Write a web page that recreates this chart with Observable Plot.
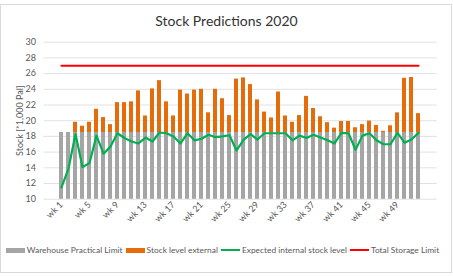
<!DOCTYPE html>
<html>
<head>
<meta charset="utf-8">
<script src="https://cdn.jsdelivr.net/npm/d3@7"></script>
<script src="https://cdn.jsdelivr.net/npm/@observablehq/plot@0.6"></script>
<style>
  html, body { margin: 0; padding: 0; background: #fff; }
  body { width: 453px; height: 277px; position: relative; overflow: hidden; font-family: Lato, "Open Sans", sans-serif; }
  #frame { position: absolute; left: 0; top: 4px; width: 452px; height: 269px; box-sizing: border-box; border: 1px solid #d9d9d9; }
  #title { position: absolute; left: 0; top: 12px; width: 453px; text-align: center; font-size: 14px; line-height: 18px; color: #333; }
  #chart { position: absolute; left: 0; top: 34px; }
  #legend { position: absolute; left: 0; top: 244px; width: 445px; display: flex; justify-content: center; align-items: center; font-size: 8.4px; line-height: 12px; color: #595959; white-space: nowrap; }
  #legend .item { display: flex; align-items: center; margin: 0 1.5px; }
  #legend .sw { display: inline-block; width: 19px; margin-right: 2px; }
  #caption { position: absolute; left: 0; top: 274.5px; width: 453px; text-align: center; font-size: 9.5px; font-weight: bold; color: #3aa88a; }
</style>
</head>
<body>
<div id="frame"></div>
<div id="title">Stock Predictions 2020</div>
<div id="chart"></div>
<div id="legend"></div>
<div id="caption">Figure 3.2: Stock predictions 2020</div>
<script>
// ---- data ----
const weeks = Array.from({length: 52}, (_, i) => `wk ${i + 1}`);
const xTickLabels = ["wk 1","wk 5","wk 9","wk 13","wk 17","wk 21","wk 25","wk 29","wk 33","wk 37","wk 41","wk 45","wk 49"];
const yTicks = [10, 12, 14, 16, 18, 20, 22, 24, 26, 28, 30];
const warehousePracticalLimit = 18.5;
const totalStorageLimit = 27;
const stockLevelExternal = [
  0, 0, 1.3, 0.8, 1.3, 2.95, 1.9, 1.0, 3.8, 3.8,
  3.9, 5.3, 2.1, 5.55, 6.6, 3.9, 2.1, 5.4, 4.9, 5.4,
  5.5, 2.5, 5.5, 4.3, 2.15, 6.8, 6.95, 6.1, 4.15, 2.6,
  1.85, 5.15, 2.1, 1.3, 2.15, 4.6, 3.05, 2.0, 1.25, 0.55,
  1.4, 1.4, 0.6, 1.0, 1.45, 0.9, 0.15, 0.85, 2.5, 6.9,
  7.0, 2.4
];
const expectedInternal = [
  11.5, 13.9, 18.3, 14.1, 14.6, 18.1, 15.8, 16.7, 18.4, 17.8,
  17.35, 17.1, 17.85, 17.35, 18.5, 18.4, 18.0, 17.1, 18.4, 17.5,
  17.7, 18.2, 17.9, 18.0, 18.15, 16.2, 17.55, 18.3, 17.6, 18.4,
  18.4, 18.4, 18.4, 17.5, 18.1, 17.8, 18.2, 17.85, 17.5, 17.1,
  18.45, 18.4, 16.3, 18.1, 18.4, 17.5, 17.0, 17.0, 18.45, 17.2,
  17.6, 18.45
];
const seriesNames = ["Warehouse Practical Limit", "Stock level external", "Expected internal stock level", "Total Storage Limit"];
const seriesColors = ["#a5a5a5", "#e46c0a", "#00b050", "#ff0000"];

// ---- tables ----
const barRows = [];
weeks.forEach((w, i) => {
  barRows.push({week: w, series: seriesNames[0], value: warehousePracticalLimit});
  barRows.push({week: w, series: seriesNames[1], value: stockLevelExternal[i]});
});
const internalRows = weeks.map((w, i) => ({week: w, value: expectedInternal[i]}));
const limitRows = weeks.map(w => ({week: w, value: totalStorageLimit}));

const chart = Plot.plot({
  width: 453,
  height: 200,
  marginTop: 7.7,
  marginBottom: 35.3,
  marginLeft: 43.5,
  marginRight: 16.3,
  style: {fontFamily: "Lato, 'Open Sans', sans-serif", background: "transparent"},
  x: {type: "band", domain: weeks, paddingInner: 0.38, paddingOuter: 0.19},
  y: {domain: [10, 30]},
  color: {domain: seriesNames.slice(0, 2), range: seriesColors.slice(0, 2)},
  marks: [
    Plot.gridY(yTicks, {stroke: "#d9d9d9", strokeOpacity: 1, strokeWidth: 0.8}),
    Plot.barY(barRows, {x: "week", y: "value", fill: "series", clip: true}),
    Plot.line(internalRows, {x: "week", y: "value", stroke: seriesColors[2], strokeWidth: 2.2}),
    Plot.line(limitRows, {x: "week", y: "value", stroke: seriesColors[3], strokeWidth: 2.2}),
    Plot.axisY(yTicks, {tickSize: 0, tickPadding: 8, fontSize: 9, color: "#595959",
      label: "Stock [*1,000 Pal]", labelAnchor: "center", labelArrow: "none", labelOffset: 27}),
    Plot.axisX(xTickLabels, {tickSize: 0, tickPadding: 4, tickRotate: -45, fontSize: 9, color: "#595959", label: null})
  ]
});
document.getElementById("chart").appendChild(chart);

// legend
const legend = document.getElementById("legend");
seriesNames.forEach((name, i) => {
  const item = document.createElement("span");
  item.className = "item";
  const sw = document.createElement("span");
  sw.className = "sw";
  sw.style.background = seriesColors[i];
  sw.style.height = i < 2 ? "5px" : "2.5px";
  item.appendChild(sw);
  item.appendChild(document.createTextNode(name));
  legend.appendChild(item);
});
</script>
</body>
</html>
